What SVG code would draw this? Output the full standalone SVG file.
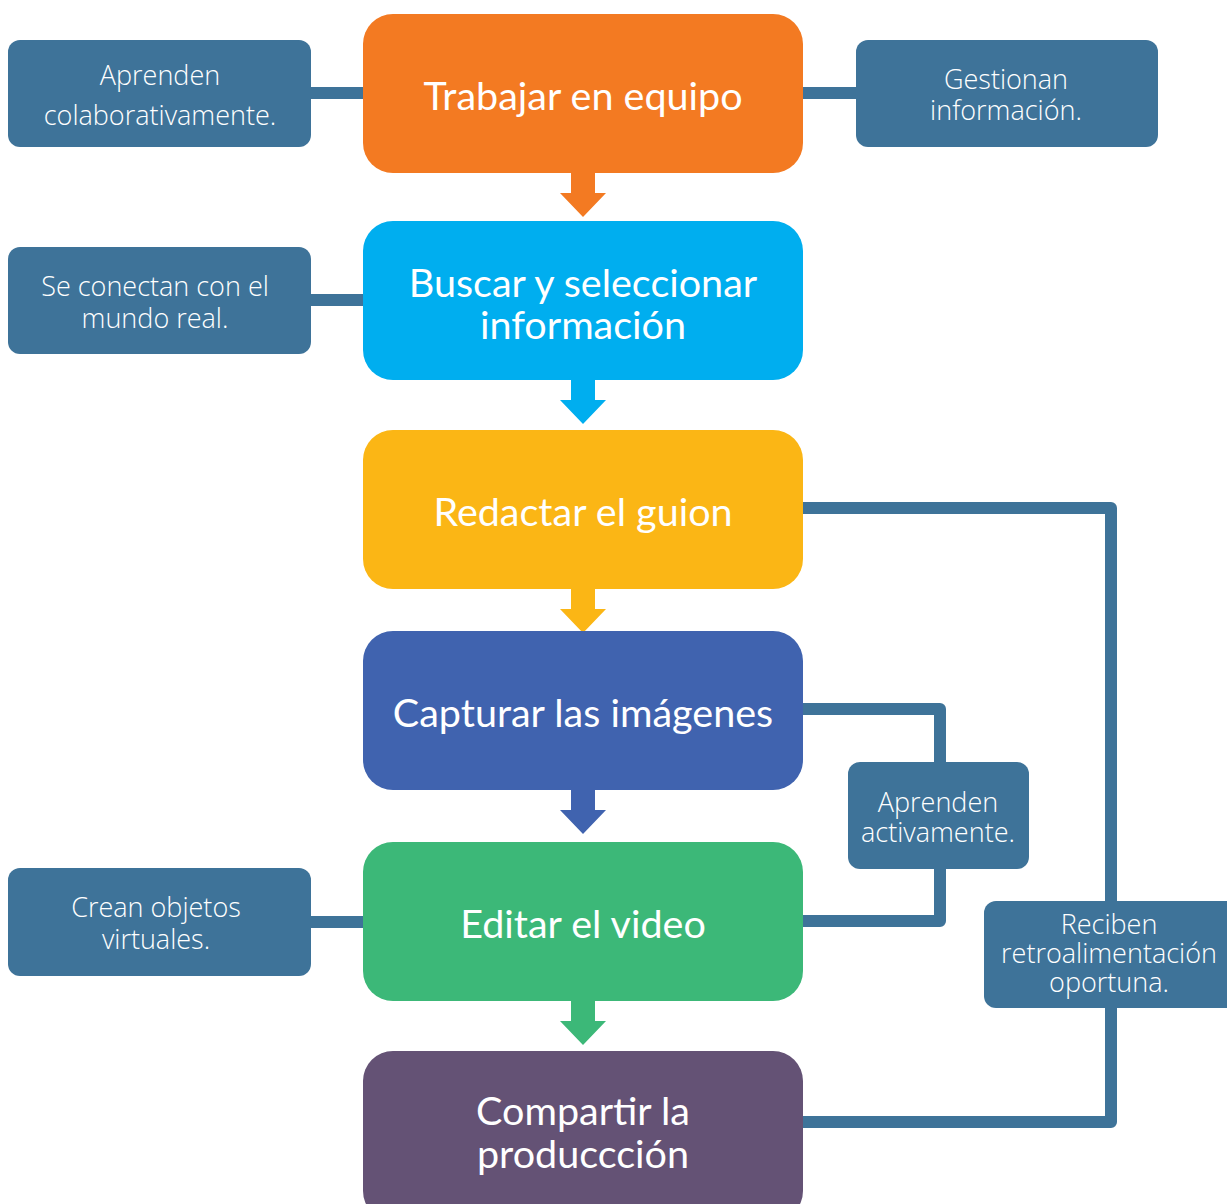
<svg xmlns="http://www.w3.org/2000/svg" width="1227" height="1204" viewBox="0 0 1227 1204">
<style>
.main{font-family:Lato,"Open Sans","Liberation Sans",sans-serif;font-size:39.5px;fill:#fff;text-anchor:middle}
.side{font-family:"Open Sans",Lato,"Liberation Sans",sans-serif;font-size:27px;font-weight:300;fill:#fff;text-anchor:middle}
.sbox{fill:#3E7399}
.conn{fill:none;stroke:#3E7399;stroke-width:12;stroke-linejoin:round}
</style>
<defs>
<path id="arr" d="M-12,0 H12 V20 H23 L0,44 L-23,20 H-12 Z"/>
</defs>
<g id="connectors">
<line class="conn" x1="305" y1="93" x2="370" y2="93"/>
<line class="conn" x1="796" y1="93" x2="862" y2="93"/>
<line class="conn" x1="305" y1="300" x2="370" y2="300"/>
<line class="conn" x1="305" y1="922" x2="370" y2="922"/>
<path class="conn" d="M796,709 H940 V768"/>
<path class="conn" d="M940,863 V921 H796"/>
<path class="conn" d="M796,508 H1111 V907"/>
<path class="conn" d="M1111,1002 V1122 H796"/>
<use href="#arr" x="583" y="173" fill="#F37A22"/>
<use href="#arr" x="583" y="380" fill="#00AEEF"/>
<use href="#arr" x="583" y="589" fill="#FBB615"/>
<use href="#arr" x="583" y="790" fill="#4063AF"/>
<use href="#arr" x="583" y="1001" fill="#3CB878"/>
</g>
<g id="n1"><rect x="363" y="14" width="440" height="159" rx="30" fill="#F37A22"/><text class="main" x="583" y="110">Trabajar en equipo</text></g>
<g id="n2"><rect x="363" y="221" width="440" height="159" rx="30" fill="#00AEEF"/><text class="main" x="583" y="297">Buscar y seleccionar</text><text class="main" x="583" y="339">información</text></g>
<g id="n3"><rect x="363" y="430" width="440" height="159" rx="30" fill="#FBB615"/><text class="main" x="583" y="526">Redactar el guion</text></g>
<g id="n4"><rect x="363" y="631" width="440" height="159" rx="30" fill="#4063AF"/><text class="main" x="583" y="727">Capturar las imágenes</text></g>
<g id="n5"><rect x="363" y="842" width="440" height="159" rx="30" fill="#3CB878"/><text class="main" x="583" y="938">Editar el video</text></g>
<g id="n6"><rect x="363" y="1051" width="440" height="170" rx="30" fill="#645275"/><text class="main" x="583" y="1125">Compartir la</text><text class="main" x="583" y="1168">produccción</text></g>
<g id="s1"><rect class="sbox" x="8" y="40" width="303" height="107" rx="12"/><text class="side" x="160" y="85">Aprenden</text><text class="side" x="160" y="125">colaborativamente.</text></g>
<g id="s2"><rect class="sbox" x="856" y="40" width="302" height="107" rx="12"/><text class="side" x="1006" y="89">Gestionan</text><text class="side" x="1006" y="120">información.</text></g>
<g id="s3"><rect class="sbox" x="8" y="247" width="303" height="107" rx="12"/><text class="side" x="155" y="296">Se conectan con el</text><text class="side" x="155" y="328">mundo real.</text></g>
<g id="s4"><rect class="sbox" x="848" y="762" width="181" height="107" rx="12"/><text class="side" x="938" y="812">Aprenden</text><text class="side" x="938" y="842">activamente.</text></g>
<g id="s5"><rect class="sbox" x="8" y="868" width="303" height="108" rx="12"/><text class="side" x="156" y="917">Crean objetos</text><text class="side" x="156" y="949">virtuales.</text></g>
<g id="s6"><rect class="sbox" x="984" y="901" width="260" height="107" rx="12"/><text class="side" x="1109" y="934">Reciben</text><text class="side" x="1109" y="963">retroalimentación</text><text class="side" x="1109" y="992">oportuna.</text></g>
</svg>
